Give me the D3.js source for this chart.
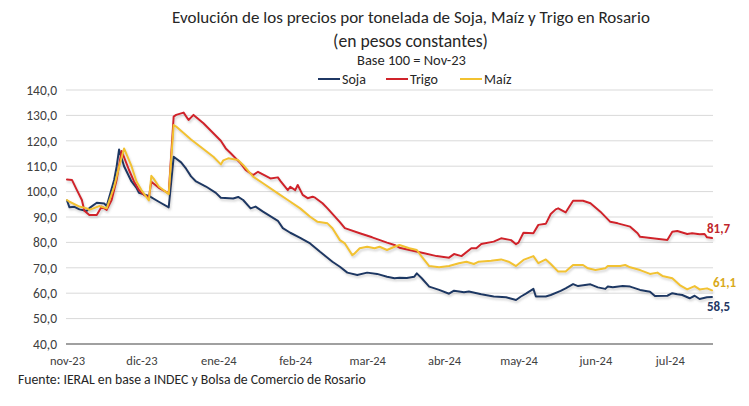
<!DOCTYPE html>
<html>
<head>
<meta charset="utf-8">
<script src="https://cdn.jsdelivr.net/npm/d3@7"></script>
<style>
  html, body { margin: 0; padding: 0; background: #fff; }
  svg { display: block; font-family: Carlito, Lato, "Open Sans", sans-serif; }
</style>
</head>
<body>
<svg id="chart" width="749" height="406"></svg>
<script>
// ---------------- DATA ----------------
const sojaFechas = ["2023-11-01","2023-11-02","2023-11-04","2023-11-06","2023-11-09","2023-11-10","2023-11-13","2023-11-16","2023-11-17","2023-11-20","2023-11-21","2023-11-22","2023-11-24","2023-11-27","2023-11-29","2023-11-30","2023-12-04","2023-12-08","2023-12-12","2023-12-14","2023-12-17","2023-12-19","2023-12-21","2023-12-23","2023-12-27","2023-12-31","2024-01-02","2024-01-07","2024-01-09","2024-01-11","2024-01-14","2024-01-16","2024-01-19","2024-01-25","2024-01-27","2024-01-30","2024-02-03","2024-02-07","2024-02-11","2024-02-16","2024-02-19","2024-02-22","2024-02-26","2024-03-01","2024-03-05","2024-03-09","2024-03-12","2024-03-14","2024-03-17","2024-03-20","2024-03-21","2024-03-23","2024-03-26","2024-03-30","2024-04-03","2024-04-05","2024-04-09","2024-04-11","2024-04-16","2024-04-21","2024-04-26","2024-04-30","2024-05-02","2024-05-04","2024-05-07","2024-05-08","2024-05-12","2024-05-14","2024-05-18","2024-05-20","2024-05-23","2024-05-25","2024-05-30","2024-06-02","2024-06-05","2024-06-06","2024-06-08","2024-06-12","2024-06-15","2024-06-19","2024-06-23","2024-06-25","2024-06-30","2024-07-02","2024-07-04","2024-07-06","2024-07-09","2024-07-11","2024-07-13","2024-07-16","2024-07-18"];
const sojaValores = [96.5,93.8,94.0,93.0,92.4,93.5,95.6,95.3,94.3,104.6,109.8,116.6,110,104,101.5,99.5,98.3,96,93.8,113.7,111.5,109,106,104,102,99.5,97.6,97.3,97.9,96.7,93.4,94.1,92.1,88.5,85.6,83.8,81.8,79.6,76.3,72.4,70.4,68.1,67.2,68.1,67.6,66.5,65.9,66.1,66,66.5,67.8,65.9,62.6,61.3,59.8,61,60.4,60.7,59.6,58.7,58.4,57.3,58.7,59.8,61.7,58.7,58.7,59.3,60.9,61.9,63.6,62.8,63.5,62.3,61.7,62.6,62.3,62.8,62.6,61.3,60.6,58.9,59,60,59.6,59.3,58,59,57.7,58.4,58.5];

const trigoFechas = ["2023-11-01","2023-11-03","2023-11-05","2023-11-07","2023-11-08","2023-11-10","2023-11-13","2023-11-15","2023-11-17","2023-11-19","2023-11-21","2023-11-23","2023-11-26","2023-11-28","2023-11-30","2023-12-02","2023-12-04","2023-12-05","2023-12-08","2023-12-12","2023-12-14","2023-12-15","2023-12-18","2023-12-20","2023-12-22","2023-12-26","2023-12-30","2024-01-02","2024-01-04","2024-01-06","2024-01-10","2024-01-12","2024-01-15","2024-01-17","2024-01-22","2024-01-25","2024-01-26","2024-01-29","2024-01-30","2024-02-01","2024-02-02","2024-02-04","2024-02-06","2024-02-08","2024-02-09","2024-02-12","2024-02-14","2024-02-19","2024-02-21","2024-02-27","2024-03-03","2024-03-09","2024-03-12","2024-03-14","2024-03-18","2024-03-24","2024-03-29","2024-04-03","2024-04-05","2024-04-08","2024-04-12","2024-04-14","2024-04-16","2024-04-21","2024-04-24","2024-04-28","2024-04-30","2024-05-01","2024-05-03","2024-05-07","2024-05-09","2024-05-12","2024-05-14","2024-05-16","2024-05-17","2024-05-20","2024-05-23","2024-05-27","2024-05-30","2024-06-03","2024-06-07","2024-06-10","2024-06-15","2024-06-18","2024-06-19","2024-06-24","2024-06-30","2024-07-02","2024-07-04","2024-07-08","2024-07-10","2024-07-13","2024-07-15","2024-07-16","2024-07-18"];
const trigoValores = [104.8,104.6,100.6,96.7,92.5,90.8,90.8,94.1,92.8,96.7,104.6,116,108.5,104,100.6,98.7,97.6,103.9,101.5,99.3,129.5,130.2,131.1,128.2,130.2,126.9,123,120,117,115.1,111.1,108.5,106.5,107.8,105.2,105.6,104.2,100.6,101.9,100.6,102.6,98.7,97.4,98,97.6,95.4,93.4,88,85.6,83.6,82,79.9,79,77.9,77,75.7,74.6,74,75.4,74.6,77.7,77.7,79.4,80.3,81.6,80.9,79.3,79.9,83.8,83.6,86.9,87.3,91.2,93,93.4,91.8,96.4,96.4,95.4,92.1,88.1,87.5,86.2,83.6,82.2,81.6,80.9,84.2,84.5,83.3,83.6,83.2,83.3,82,81.7];

const maizFechas = ["2023-11-01","2023-11-02","2023-11-06","2023-11-09","2023-11-10","2023-11-14","2023-11-17","2023-11-20","2023-11-22","2023-11-24","2023-11-27","2023-11-29","2023-12-01","2023-12-04","2023-12-05","2023-12-06","2023-12-08","2023-12-12","2023-12-14","2023-12-15","2023-12-21","2023-12-30","2024-01-02","2024-01-03","2024-01-05","2024-01-09","2024-01-11","2024-01-15","2024-01-19","2024-01-25","2024-01-29","2024-02-03","2024-02-07","2024-02-10","2024-02-14","2024-02-16","2024-02-19","2024-02-21","2024-02-24","2024-02-25","2024-02-27","2024-03-01","2024-03-04","2024-03-06","2024-03-09","2024-03-12","2024-03-14","2024-03-18","2024-03-21","2024-03-23","2024-03-26","2024-03-30","2024-04-03","2024-04-07","2024-04-10","2024-04-13","2024-04-15","2024-04-20","2024-04-24","2024-04-27","2024-04-30","2024-05-03","2024-05-07","2024-05-09","2024-05-12","2024-05-14","2024-05-17","2024-05-20","2024-05-23","2024-05-27","2024-05-29","2024-06-01","2024-06-05","2024-06-06","2024-06-11","2024-06-13","2024-06-15","2024-06-19","2024-06-23","2024-06-26","2024-06-28","2024-07-02","2024-07-05","2024-07-08","2024-07-11","2024-07-13","2024-07-16","2024-07-18"];
const maizValores = [96.7,96,94.1,93.4,92.8,94.3,93.4,101.9,109.8,117,110,104,100.6,96.5,106.2,105,102,99,126.2,125.6,120.5,113.7,110.7,112.3,113.1,112.4,110.5,105.9,103.3,99.3,96.7,93.4,90.1,88.1,87.5,85.6,80.9,79.6,75,75.7,77.7,78.3,77.7,78.3,77,78.3,79,77.7,77,74.4,70.7,70.2,70.7,71.8,72.4,71.5,72.4,72.8,73.3,72.4,70.7,73.1,74.6,71.8,73.3,71.5,68.5,68.5,71.1,71.1,69.8,69.1,69.8,70.7,70.7,71.1,70.2,69.1,67.6,68.1,66.8,65.9,63.2,61.5,62.8,61.5,61.9,61.1];

const seriesNombres = ["Soja", "Trigo", "Maíz"];
const etiquetasFinales = ["58,5", "81,7", "61,1"];
const yTicks = [40, 50, 60, 70, 80, 90, 100, 110, 120, 130, 140];
const xTickFechas = ["2023-11-01","2023-12-01","2024-01-01","2024-02-01","2024-03-01","2024-04-01","2024-05-01","2024-06-01","2024-07-01"];
const xTickEtiquetas = ["nov-23","dic-23","ene-24","feb-24","mar-24","abr-24","may-24","jun-24","jul-24"];

const titulo = "Evolución de los precios por tonelada de Soja, Maíz y Trigo en Rosario";
const subtitulo = "(en pesos constantes)";
const base = "Base 100 = Nov-23";
const fuente = "Fuente: IERAL en base a INDEC y Bolsa de Comercio de Rosario";

// ---------------- DRAW ----------------
const parse = d3.timeParse("%Y-%m-%d");
const colores = { "Soja": "#1f3864", "Trigo": "#d0232a", "Maíz": "#f2c230" };
const colEtiq = { "Soja": "#1f3864", "Trigo": "#c0262c", "Maíz": "#d9aa1a" };

const series = [
  { nombre: "Soja", fechas: sojaFechas, valores: sojaValores, etiqueta: etiquetasFinales[0] },
  { nombre: "Trigo", fechas: trigoFechas, valores: trigoValores, etiqueta: etiquetasFinales[1] },
  { nombre: "Maíz", fechas: maizFechas, valores: maizValores, etiqueta: etiquetasFinales[2] }
].map(s => ({ ...s, puntos: s.fechas.map((f, i) => ({ fecha: parse(f), valor: s.valores[i] })) }));

const svg = d3.select("#chart");
const L = 67, R = 712, T = 90, B = 344;

const x = d3.scaleTime().domain([parse("2023-11-01"), parse("2024-07-18")]).range([L, R]);
const y = d3.scaleLinear().domain([40, 140]).range([B, T]);

// fit text to a target width (font substitute for Calibri)
function fitText(sel, target, base) {
  sel.attr("font-size", base);
  const w = sel.node().getComputedTextLength();
  if (w > 0) sel.attr("font-size", (base * target / w).toFixed(2));
  return sel;
}

const defs = svg.append("defs");
const f = defs.append("filter").attr("id", "sombra").attr("x", "-5%").attr("y", "-5%").attr("width", "110%").attr("height", "120%");
f.append("feDropShadow").attr("dx", 1).attr("dy", 2).attr("stdDeviation", 1.2)
  .attr("flood-color", "#7f7f7f").attr("flood-opacity", 0.35);

// gridlines
svg.append("g").selectAll("line").data(yTicks.filter(v => v > 40)).join("line")
  .attr("x1", L - 1).attr("x2", R + 1)
  .attr("y1", d => y(d)).attr("y2", d => y(d))
  .attr("stroke", "#d9d9d9").attr("stroke-width", 1);

// y axis labels
const yAxis = d3.axisLeft(y).tickValues(yTicks).tickSize(0).tickPadding(10)
  .tickFormat(d => d3.format(".1f")(d).replace(".", ","));
const gy = svg.append("g").attr("transform", `translate(${L},0)`).call(yAxis);
gy.select(".domain").remove();
gy.selectAll("text").attr("font-size", 13.5).attr("fill", "#404040")
  .attr("font-family", "Carlito, Lato, sans-serif");

// x axis
const xAxis = d3.axisBottom(x).tickValues(xTickFechas.map(parse)).tickSize(0).tickPadding(12)
  .tickFormat((d, i) => xTickEtiquetas[i]);
const gx = svg.append("g").attr("transform", `translate(0,${B})`).call(xAxis);
gx.select(".domain").attr("d", `M${L - 1},0H${R + 1}`).attr("stroke", "#808080").attr("stroke-width", 1.5);
gx.selectAll("text").attr("font-size", 12.5).attr("fill", "#404040")
  .attr("font-family", "Carlito, Lato, sans-serif");

// lines
const linea = d3.line().x(d => x(d.fecha)).y(d => y(d.valor)).curve(d3.curveLinear);
svg.append("g").attr("filter", "url(#sombra)").selectAll("path").data(series).join("path")
  .attr("d", s => linea(s.puntos))
  .attr("fill", "none").attr("stroke", s => colores[s.nombre])
  .attr("stroke-width", 2).attr("stroke-linejoin", "round").attr("stroke-linecap", "round");

// end labels
const offs = { "Soja": [-5, 14], "Trigo": [-5, -5], "Maíz": [1, -3] };
svg.append("g").selectAll("text").data(series).join("text")
  .attr("x", s => x(s.puntos[s.puntos.length - 1].fecha) + offs[s.nombre][0])
  .attr("y", s => y(s.puntos[s.puntos.length - 1].valor) + offs[s.nombre][1])
  .attr("fill", s => colEtiq[s.nombre]).attr("font-weight", "bold").attr("font-size", 13)
  .text(s => s.etiqueta);

// titles
fitText(svg.append("text").attr("x", 411).attr("y", 23).attr("text-anchor", "middle")
  .attr("fill", "#262626").text(titulo), 478, 16);
fitText(svg.append("text").attr("x", 410.5).attr("y", 46.5).attr("text-anchor", "middle")
  .attr("fill", "#262626").text(subtitulo), 155, 16);
fitText(svg.append("text").attr("x", 411.5).attr("y", 65).attr("text-anchor", "middle")
  .attr("fill", "#262626").text(base), 109, 13);

// legend
const legX = [318, 386, 460];
const leg = svg.append("g").selectAll("g").data(series).join("g")
  .attr("transform", (s, i) => `translate(${legX[i]},79)`);
leg.append("line").attr("x1", 0).attr("x2", 22).attr("y1", 0).attr("y2", 0)
  .attr("stroke", s => colores[s.nombre]).attr("stroke-width", 2);
leg.append("text").attr("x", 24).attr("y", 4.8).attr("font-size", 14).attr("fill", "#262626")
  .text((s, i) => seriesNombres[i]);

// source
fitText(svg.append("text").attr("x", 18).attr("y", 384).attr("fill", "#262626").text(fuente), 348, 13.5);
</script>
</body>
</html>
